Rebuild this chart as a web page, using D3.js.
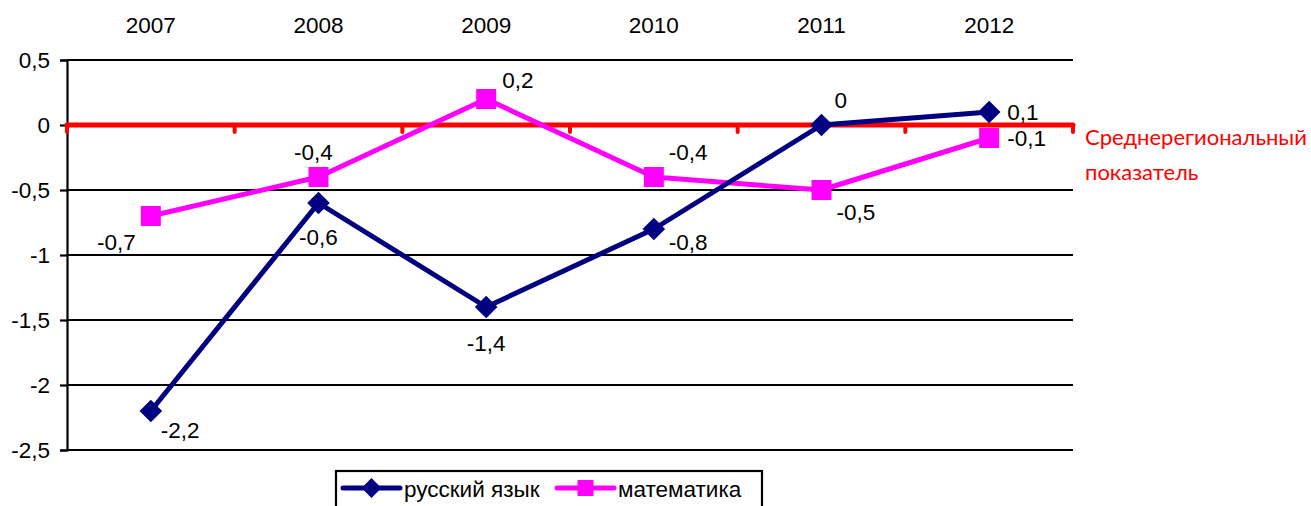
<!DOCTYPE html>
<html><head><meta charset="utf-8">
<script src="https://cdn.jsdelivr.net/npm/d3@7"></script>
<style>body{margin:0;background:#fff}svg{display:block}</style>
</head><body>
<svg id="c" width="1311" height="506"></svg>
<script>
const categories = ["2007","2008","2009","2010","2011","2012"];
const russian = [-2.2, -0.6, -1.4, -0.8, 0, 0.1];
const math = [-0.7, -0.4, 0.2, -0.4, -0.5, -0.1];
const yTicks = [0.5, 0, -0.5, -1, -1.5, -2, -2.5];
const seriesNames = ["русский язык", "математика"];
const refLabel = ["Среднерегиональный", "показатель"];

// data-label placement (style only): [dx, dy, anchor]
const russianLabelStyle = [[10,27,"start"],[0,42,"middle"],[0,44,"middle"],[15,21,"start"],[13,-17,"start"],[18,8,"start"]];
const mathLabelStyle = [[-15,34,"end"],[-5,-17,"middle"],[16,-11,"start"],[15,-17,"start"],[15,30,"start"],[18,8,"start"]];

(function(){
const svg = d3.select("#c");
const pL = 67, pR = 1073, pT = 60, pB = 450;
const x = d3.scaleBand().domain(categories).range([pL, pR]);
const y = d3.scaleLinear().domain([-2.5, 0.5]).range([pB, pT]);
const fmt = v => String(v).replace(".", ",");
const font = "Arial, 'Liberation Sans', sans-serif";
const fs = 22.5;

// gridlines
svg.append("g").selectAll("line").data(yTicks).join("line")
  .attr("x1", pL).attr("x2", pR)
  .attr("y1", d => y(d)).attr("y2", d => y(d))
  .attr("stroke", "#000").attr("stroke-width", 2.2);

// y axis
const ya = svg.append("g").attr("transform", `translate(${pL},0)`)
  .call(d3.axisLeft(y).tickValues(yTicks).tickSize(7).tickPadding(10).tickFormat(fmt));
ya.attr("font-size", null).attr("font-family", null);
ya.select(".domain").attr("stroke", "#000").attr("stroke-width", 2.2);
ya.selectAll(".tick line").attr("stroke", "#000").attr("stroke-width", 2.2);
ya.selectAll("text").attr("font-family", font).attr("font-size", fs).attr("fill", "#000");

// top category labels
const xa = svg.append("g").attr("transform", `translate(0,${pT})`)
  .call(d3.axisTop(x).tickSize(0).tickPadding(27));
xa.attr("font-size", null).attr("font-family", null);
xa.select(".domain").remove();
xa.selectAll("text").attr("font-family", font).attr("font-size", fs).attr("fill", "#000");

// red reference line at 0
const red = "#ff0000";
svg.append("line").attr("x1", pL).attr("x2", pR).attr("y1", y(0)).attr("y2", y(0))
  .attr("stroke", red).attr("stroke-width", 5).attr("stroke-linecap", "round");
const bounds = categories.map(c => x(c)).concat([x(categories[categories.length-1]) + x.bandwidth()]);
svg.append("g").selectAll("line").data(bounds).join("line")
  .attr("x1", d => d).attr("x2", d => d).attr("y1", y(0)).attr("y2", y(0) + 7)
  .attr("stroke", red).attr("stroke-width", 4).attr("stroke-linecap", "round");
svg.append("g").selectAll("text").data(refLabel).join("text")
  .attr("x", 1085).attr("y", (d, i) => 145 + i * 35)
  .attr("font-family", "Lato, 'Open Sans', sans-serif").attr("font-size", 22)
  .attr("fill", red).text(d => d);

const cx = c => x(c) + x.bandwidth() / 2;
const navy = "#000080", mag = "#ff00ff";

function drawSeries(vals, color, shape, ls) {
  const line = d3.line().x((d, i) => cx(categories[i])).y(d => y(d));
  svg.append("path").datum(vals).attr("d", line).attr("fill", "none")
    .attr("stroke", color).attr("stroke-width", 5).attr("stroke-linejoin", "round");
  const g = svg.append("g");
  if (shape === "diamond") {
    g.selectAll("rect").data(vals).join("rect")
      .attr("x", -8).attr("y", -8).attr("width", 16).attr("height", 16)
      .attr("fill", color)
      .attr("transform", (d, i) => `translate(${cx(categories[i])},${y(d)}) rotate(45)`);
  } else {
    g.selectAll("rect").data(vals).join("rect")
      .attr("x", (d, i) => cx(categories[i]) - 10).attr("y", d => y(d) - 10)
      .attr("width", 20).attr("height", 20).attr("fill", color);
  }
  svg.append("g").selectAll("text").data(vals).join("text")
    .attr("x", (d, i) => cx(categories[i]) + ls[i][0])
    .attr("y", (d, i) => y(d) + ls[i][1])
    .attr("text-anchor", (d, i) => ls[i][2])
    .attr("font-family", font).attr("font-size", fs).attr("fill", "#000")
    .text(d => fmt(d));
}
drawSeries(math, mag, "square", mathLabelStyle);
drawSeries(russian, navy, "diamond", russianLabelStyle);

// legend
const lg = svg.append("g");
lg.append("rect").attr("x", 336).attr("y", 471).attr("width", 426).attr("height", 45)
  .attr("fill", "#fff").attr("stroke", "#000").attr("stroke-width", 2.2);
const items = [
  {name: seriesNames[0], color: navy, shape: "diamond", x0: 343},
  {name: seriesNames[1], color: mag, shape: "square", x0: 557}
];
items.forEach(it => {
  lg.append("line").attr("x1", it.x0).attr("x2", it.x0 + 57).attr("y1", 488).attr("y2", 488)
    .attr("stroke", it.color).attr("stroke-width", 5).attr("stroke-linecap", "round");
  const mx = it.x0 + 28.5;
  if (it.shape === "diamond") {
    lg.append("rect").attr("x", -7).attr("y", -7).attr("width", 14).attr("height", 14)
      .attr("fill", it.color).attr("transform", `translate(${mx},488) rotate(45)`);
  } else {
    lg.append("rect").attr("x", mx - 8).attr("y", 480).attr("width", 16).attr("height", 16).attr("fill", it.color);
  }
  lg.append("text").attr("x", it.x0 + 61).attr("y", 497).attr("font-family", font)
    .attr("font-size", fs).attr("fill", "#000").text(it.name);
});
})();
</script>
</body></html>
